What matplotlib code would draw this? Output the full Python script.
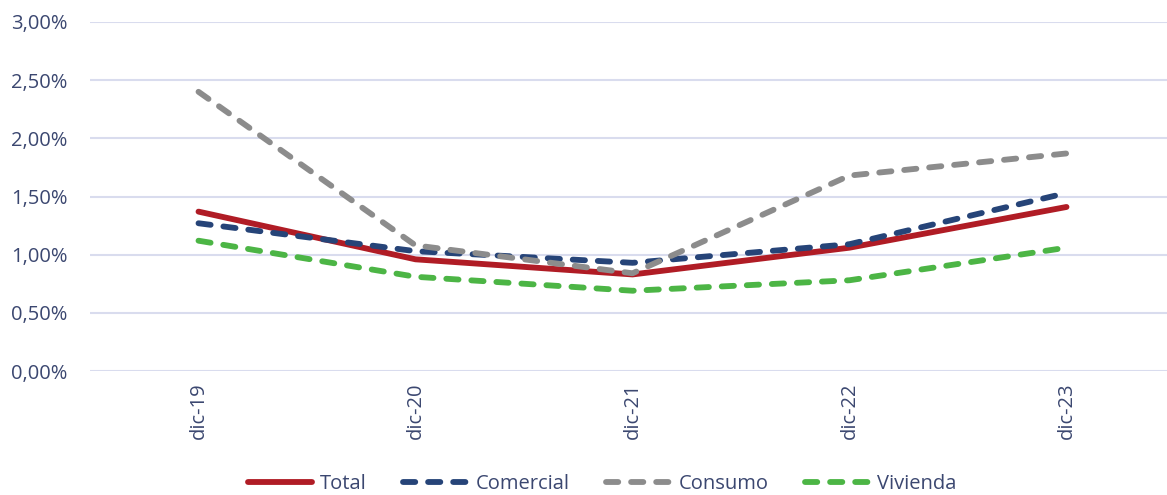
import numpy as np
import matplotlib
matplotlib.use('Agg')
import matplotlib.pyplot as plt
from matplotlib.ticker import FuncFormatter

plt.rcParams['font.family'] = ['Open Sans', 'DejaVu Sans']

# datos
periodos = ['dic-19', 'dic-20', 'dic-21', 'dic-22', 'dic-23']
total = [1.37, 0.96, 0.83, 1.06, 1.41]
comercial = [1.27, 1.03, 0.93, 1.09, 1.53]
consumo = [2.40, 1.08, 0.84, 1.68, 1.87]
vivienda = [1.12, 0.81, 0.69, 0.78, 1.06]

text_color = '#3b4770'
dash = (2.1, 2.2)

fig = plt.figure(figsize=(11.67, 4.95), dpi=100)
ax = fig.add_axes([90 / 1167, 1 - 371 / 495, 1 - 90 / 1167, (371 - 22) / 495])

x = np.arange(len(periodos))
ax.plot(x, total, color='#b01c25', lw=4.2, solid_capstyle='round', label='Total')
ax.plot(x, comercial, color='#264478', lw=4.2, dashes=dash,
        dash_capstyle='round', label='Comercial')
ax.plot(x, consumo, color='#8c8c8c', lw=4.2, dashes=dash,
        dash_capstyle='round', label='Consumo')
ax.plot(x, vivienda, color='#4cb545', lw=4.2, dashes=dash,
        dash_capstyle='round', label='Vivienda')

ax.set_ylim(0, 3.0)
ax.set_yticks(np.arange(0, 3.01, 0.5))
ax.yaxis.set_major_formatter(FuncFormatter(lambda v, p: f'{v:.2f}%'.replace('.', ',')))
ax.set_xlim(-0.5, -0.5 + 1077 / 217)
ax.set_xticks(x)
ax.set_xticklabels(periodos, rotation=90)

ax.grid(axis='y', color='#d9dcee', lw=1.5)
ax.set_axisbelow(True)
for s in ax.spines.values():
    s.set_visible(False)
ax.tick_params(axis='both', length=0, labelsize=14.5, colors=text_color)
ax.tick_params(axis='y', pad=16)
ax.tick_params(axis='x', pad=8)

leg = fig.legend(loc='lower center', bbox_to_anchor=(0.516, -0.035), ncol=4,
                 frameon=False, fontsize=14.5, handlelength=3.2,
                 handletextpad=0.4, columnspacing=1.8)
for t in leg.get_texts():
    t.set_color(text_color)

fig.savefig('out.png', dpi=100)
